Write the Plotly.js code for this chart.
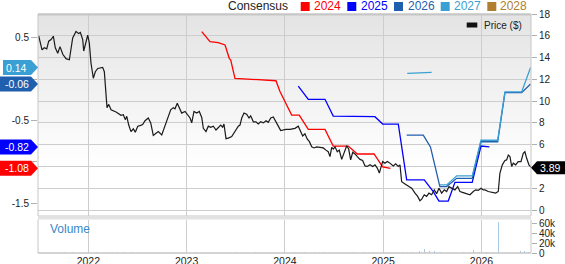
<!DOCTYPE html>
<html><head><meta charset="utf-8">
<script src="https://cdn.plot.ly/plotly-3.0.1.min.js"></script>
<style>html,body{margin:0;padding:0;background:#fff;}#chart{width:565px;height:264px;}</style>
</head><body><div id="chart"></div>
<script>
// ---------- DATA ----------
const yearTicks = [2022, 2023, 2024, 2025, 2026];
const yearLabels = ['2022', '2023', '2024', '2025', '2026'];

const priceX = [2021.495,2021.529,2021.552,2021.577,2021.597,2021.621,2021.644,2021.664,2021.689,2021.712,
2021.740,2021.773,2021.807,2021.824,2021.841,2021.875,2021.902,2021.919,2021.943,2021.953,
2021.977,2021.994,2022.010,2022.027,2022.051,2022.071,2022.096,2022.129,2022.146,2022.163,
2022.180,2022.190,2022.208,2022.231,2022.282,2022.333,2022.356,2022.376,2022.391,2022.411,
2022.434,2022.458,2022.478,2022.503,2022.526,2022.553,2022.577,2022.610,2022.635,2022.661,
2022.689,2022.712,2022.747,2022.780,2022.814,2022.838,2022.865,2022.882,2022.905,2022.926,
2022.950,2022.984,2023.007,2023.035,2023.052,2023.075,2023.103,2023.129,2023.154,2023.170,
2023.197,2023.221,2023.245,2023.272,2023.299,2023.322,2023.347,2023.367,2023.380,2023.401,
2023.424,2023.459,2023.492,2023.526,2023.543,2023.561,2023.584,2023.611,2023.635,2023.652,
2023.679,2023.706,2023.729,2023.754,2023.780,2023.808,2023.831,2023.856,2023.882,2023.909,
2023.933,2023.957,2023.984,2024.011,2024.052,2024.103,2024.136,2024.154,2024.181,2024.204,
2024.228,2024.248,2024.273,2024.296,2024.324,2024.357,2024.391,2024.418,2024.441,2024.459,
2024.476,2024.492,2024.510,2024.533,2024.553,2024.578,2024.601,2024.629,2024.649,2024.669,
2024.690,2024.713,2024.737,2024.764,2024.791,2024.815,2024.838,2024.866,2024.893,2024.917,
2024.940,2024.961,2024.975,2024.995,2025.018,2025.042,2025.062,2025.079,2025.103,2025.127,
2025.154,2025.171,2025.188,2025.222,2025.255,2025.290,2025.324,2025.351,2025.374,2025.392,
2025.418,2025.442,2025.466,2025.493,2025.520,2025.544,2025.568,2025.595,2025.622,2025.646,
2025.669,2025.697,2025.730,2025.758,2025.781,2025.815,2025.849,2025.883,2025.917,2025.941,
2025.967,2025.995,2026.018,2026.036,2026.069,2026.104,2026.144,2026.171,2026.188,2026.212,
2026.239,2026.256,2026.273,2026.290,2026.307,2026.324,2026.348,2026.374,2026.402,2026.425,
2026.442,2026.460,2026.483,2026.510];
const priceY = [16.0,14.7,14.9,14.8,15.5,15.65,15.96,14.9,14.4,15.0,
14.3,13.9,13.8,14.9,15.8,16.4,16.2,16.3,15.65,14.6,
15.5,16.05,15.35,13.5,12.1,12.7,13.0,13.05,13.1,12.7,
10.9,9.4,9.7,9.2,9.0,8.7,8.75,8.3,8.6,7.8,
7.2,7.45,7.15,7.7,7.75,7.85,8.2,8.45,8.0,6.85,
7.05,7.2,6.9,7.7,8.6,9.2,9.4,9.3,9.8,9.35,
8.9,9.05,8.8,8.45,8.0,9.05,8.9,9.05,8.5,7.5,
7.2,7.7,7.6,7.7,7.35,7.6,7.8,7.6,7.9,6.55,
6.6,6.75,7.2,7.7,7.8,8.45,8.9,8.8,8.45,8.65,
8.1,8.1,7.9,8.1,8.0,8.2,8.05,8.45,8.55,8.15,
7.7,7.3,7.35,7.4,7.4,7.5,7.7,7.35,6.8,7.0,
6.5,6.3,5.8,5.7,5.8,5.75,5.7,5.5,5.35,4.9,
5.75,5.6,5.8,5.35,5.5,4.65,5.2,5.9,5.6,4.6,
5.3,5.15,4.9,4.65,4.55,4.05,4.0,4.15,4.0,4.15,
3.85,3.4,3.85,4.45,4.3,4.45,4.35,4.25,4.05,4.25,
4.0,4.15,2.6,2.4,2.2,2.0,1.55,1.25,0.85,1.0,
1.4,1.25,1.55,1.4,1.85,1.5,2.0,1.55,1.85,1.7,
2.15,2.0,1.85,2.15,1.7,1.6,1.5,1.4,1.7,1.85,
1.8,2.0,1.85,1.85,1.7,1.6,1.55,1.7,3.4,4.15,
4.55,4.6,5.05,4.9,4.0,4.3,4.15,4.45,4.45,5.2,
5.35,4.75,4.15,3.89];

// Consensus EPS estimates (left axis)
const eps2024X = [2023.154,2023.238,2023.322,2023.391,2023.434,2023.449,2023.492,2023.909,2023.950,2024.069,2024.146,2024.238,2024.408,2024.492,2024.645,2024.737,2024.907,2024.995,2025.074];
const eps2024Y = [0.573,0.452,0.44,0.412,0.251,0.23,0.009,-0.02,-0.15,-0.435,-0.435,-0.608,-0.608,-0.81,-0.81,-0.906,-0.906,-1.063,-1.08];

const eps2025X = [2024.136,2024.238,2024.408,2024.492,2024.916,2024.995,2025.154,2025.239,2025.418,2025.510,2025.568,2025.662,2025.730,2025.906,2025.995,2026.081];
const eps2025Y = [-0.084,-0.245,-0.245,-0.447,-0.455,-0.544,-0.544,-1.22,-1.22,-1.362,-1.475,-1.475,-1.249,-1.249,-0.81,-0.82];

const eps2026X = [2025.239,2025.408,2025.481,2025.577,2025.646,2025.748,2025.906,2025.995,2026.165,2026.239,2026.409,2026.500];
const eps2026Y = [-0.677,-0.677,-0.82,-1.30,-1.30,-1.20,-1.20,-0.758,-0.758,-0.165,-0.165,-0.06];

const eps2027X = [2025.245,2025.493,null,2025.577,2025.646,2025.748,2025.906,2025.995,2026.165,2026.239,2026.409,2026.500];
const eps2027Y = [0.07,0.08,null,-1.28,-1.28,-1.17,-1.17,-0.74,-0.74,-0.155,-0.155,0.14];

const volX = [2021.52,2021.60,2021.68,2021.76,2021.84,2021.92,2022.00,2022.08,2022.14,2022.19,
2022.24,2022.30,2022.36,2022.44,2022.52,2022.60,2022.70,2022.80,2022.90,2023.00,
2023.10,2023.20,2023.30,2023.40,2023.50,2023.60,2023.70,2023.80,2023.90,2024.00,
2024.10,2024.20,2024.30,2024.40,2024.50,2024.60,2024.70,2024.80,2024.90,2025.00,
2025.10,2025.20,2025.30,2025.37,2025.42,2025.47,2025.52,2025.58,2025.64,2025.70,
2025.76,2025.82,2025.88,2025.92,2025.98,2026.05,2026.12,2026.175,2026.19,2026.22,
2026.26,2026.30,2026.35,2026.40,2026.44,2026.48];
const volY = [1200,900,1500,1100,1300,1000,1600,1200,2500,4000,
2200,1800,1400,1200,1000,900,1100,1300,1000,900,
1200,1000,900,1100,1300,1000,1100,900,1200,1000,
1300,1100,1500,1200,1400,1100,1600,1300,1500,1800,
2000,2200,2500,3400,8800,4000,3800,2500,3000,2800,
2000,1800,2200,5400,2000,1800,1500,63000,6500,5500,
4000,3000,2500,3500,4600,2000];

// Tick labels (values hidden behind the value flags are left blank)
const epsTickVals = [0.5, 0, -0.5, -1, -1.5];
const epsTickText = ['0.5', '', '-0.5', '', '-1.5'];
const priceTickVals = [0, 2, 4, 6, 8, 10, 12, 14, 16, 18];
const priceTickText = ['0', '2', '', '6', '8', '10', '12', '14', '16', '18'];
const volTickVals = [0, 20000, 40000, 60000];
const volTickText = ['0', '20k', '40k', '60k'];

const legendYears = ['2024', '2025', '2026', '2027', '2028'];
const legendColors = ['#ff0000', '#0000ff', '#1f5fae', '#3a9fd2', '#b07e2e'];
const lastEps = [0.14, -0.06, -0.82, -1.08];
const lastEpsColors = ['#3a9fd2', '#1f5fae', '#0000ff', '#ff0000'];
const lastPrice = 3.89;

// ---------- LAYOUT HELPERS ----------
const W = 565, H = 264, L = 38, R = 34, T = 14, B = 11;
const pw = W - L - R, ph = H - T - B;
const px = x => (x - L) / pw;
const py = y => (H - B - y) / ph;
const FONT = 'Liberation Sans, Arial, sans-serif';

const traces = [
  {x: volX, y: volY, type: 'bar', yaxis: 'y3', width: 0.007,
   marker: {color: '#a9c9e7', line: {width: 0}}, hoverinfo: 'skip'},
  {x: eps2024X, y: eps2024Y, mode: 'lines', yaxis: 'y', line: {color: legendColors[0], width: 1.3}},
  {x: eps2025X, y: eps2025Y, mode: 'lines', yaxis: 'y', line: {color: legendColors[1], width: 1.3}},
  {x: eps2026X, y: eps2026Y, mode: 'lines', yaxis: 'y', line: {color: legendColors[2], width: 1.3}},
  {x: eps2027X, y: eps2027Y, mode: 'lines', yaxis: 'y', connectgaps: false, line: {color: legendColors[3], width: 1.3}},
  {x: priceX, y: priceY, mode: 'lines', yaxis: 'y2', line: {color: '#1a1a1a', width: 1.2}}
];

const shapes = [];
// background gradient of price panel
const gN = 26, gTop = 14, gBot = 170;
for (let i = 0; i < gN; i++) {
  const y0 = gTop + i * (gBot - gTop) / gN, y1 = gTop + (i + 1) * (gBot - gTop) / gN;
  const v = Math.round(228 + (255 - 228) * (i / (gN - 1)));
  shapes.push({type: 'rect', xref: 'paper', yref: 'paper', x0: 0, x1: 1, y0: py(y1), y1: py(y0),
    fillcolor: `rgb(${v},${v},${v})`, line: {width: 0}, layer: 'below'});
}
// panel borders
shapes.push({type: 'rect', xref: 'paper', yref: 'paper', x0: 0, x1: 1, y0: py(216), y1: 1,
  line: {color: '#c6c6c6', width: 1}, layer: 'above'});
shapes.push({type: 'line', xref: 'paper', yref: 'paper', x0: 0, x1: 1, y0: py(14.5), y1: py(14.5),
  line: {color: '#c6c6c6', width: 2}, layer: 'above'});
shapes.push({type: 'rect', xref: 'paper', yref: 'paper', x0: 0, x1: 1, y0: py(219.5), y1: py(216),
  fillcolor: '#e2e2e2', line: {width: 0}, layer: 'above'});
shapes.push({type: 'line', xref: 'paper', yref: 'paper', x0: 0, x1: 0, y0: 0, y1: py(219.5), line: {color: '#c6c6c6', width: 1}});
shapes.push({type: 'line', xref: 'paper', yref: 'paper', x0: 1, x1: 1, y0: 0, y1: py(219.5), line: {color: '#c6c6c6', width: 1}});
shapes.push({type: 'line', xref: 'paper', yref: 'paper', x0: 0, x1: 1, y0: 0, y1: 0, line: {color: '#c6c6c6', width: 1.5}});

const annotations = [];
// top legend
annotations.push({xref: 'paper', yref: 'paper', x: px(226.7), y: py(6.5), xanchor: 'left', yanchor: 'middle',
  text: 'Consensus', showarrow: false, borderpad: 0, font: {family: FONT, size: 12, color: '#222'}});
const legSq = [300.7, 347.3, 394, 440.7, 487.3];
const legTx = [312.7, 360, 406.7, 453.3, 499.3];
legendYears.forEach((yr, i) => {
  shapes.push({type: 'rect', xref: 'paper', yref: 'paper', x0: px(legSq[i]), x1: px(legSq[i] + 9),
    y0: py(11), y1: py(2), fillcolor: legendColors[i], line: {width: 0}});
  annotations.push({xref: 'paper', yref: 'paper', x: px(legTx[i]), y: py(6.5), xanchor: 'left', yanchor: 'middle',
    text: yr, showarrow: false, borderpad: 0, font: {family: FONT, size: 12, color: legendColors[i]}});
});
// price legend
shapes.push({type: 'rect', xref: 'paper', yref: 'paper', x0: px(466.7), x1: px(477.3), y0: py(27.5), y1: py(22.5),
  fillcolor: '#111', line: {width: 0}});
annotations.push({xref: 'paper', yref: 'paper', x: px(482.5), y: py(25.5), xanchor: 'left', yanchor: 'middle',
  text: 'Price ($)', showarrow: false, borderpad: 0, font: {family: FONT, size: 10, color: '#222'}});
// volume label
annotations.push({xref: 'paper', yref: 'paper', x: px(48.5), y: py(228.5), xanchor: 'left', yanchor: 'middle',
  text: 'Volume', showarrow: false, borderpad: 0, font: {family: FONT, size: 12, color: '#3b88c9'}});
// latest EPS labels on left
lastEps.forEach((v, i) => {
  const left = i === 0 ? -35 : -38;
  shapes.push({type: 'path', xref: 'paper', xsizemode: 'pixel', xanchor: 0, yref: 'y', ysizemode: 'pixel', yanchor: v,
    path: `M ${left} -7.5 L -7 -7.5 L 0 0 L -7 7.5 L ${left} 7.5 Z`, fillcolor: lastEpsColors[i], line: {width: 0}, layer: 'above'});
  annotations.push({xref: 'paper', yref: 'y', x: 0, y: v, xshift: -21.5, xanchor: 'center', yanchor: 'middle',
    text: v.toFixed(2), showarrow: false, borderpad: 0, font: {family: FONT, size: 10.5, color: '#fff'}});
});
// latest price label on right
shapes.push({type: 'path', xref: 'paper', xsizemode: 'pixel', xanchor: 1, yref: 'y2', ysizemode: 'pixel', yanchor: lastPrice,
  path: 'M 0 0 L 6 -6.5 L 34 -6.5 L 34 6.5 L 6 6.5 Z', fillcolor: '#000', line: {width: 0}, layer: 'above'});
annotations.push({xref: 'paper', yref: 'y2', x: 1, y: lastPrice, xshift: 19.5, xanchor: 'center', yanchor: 'middle',
  text: lastPrice.toFixed(2), showarrow: false, borderpad: 0, font: {family: FONT, size: 10.5, color: '#fff'}});

const layout = {
  width: W, height: H,
  margin: {l: L, r: R, t: T, b: B, pad: 0},
  paper_bgcolor: '#fff', plot_bgcolor: '#fff',
  showlegend: false,
  font: {family: FONT, size: 10, color: '#222'},
  xaxis: {domain: [0, 1], range: [2021.488, 2026.504], anchor: 'y3',
    tickvals: yearTicks, ticktext: yearLabels, showgrid: true, gridcolor: '#cdcdcd', gridwidth: 1,
    zeroline: false, showline: false, ticks: '', tickfont: {size: 10.5, color: '#222'}},
  yaxis: {domain: [py(216), 1], range: [-1.656, 0.787], side: 'left', anchor: 'x',
    tickvals: epsTickVals, ticktext: epsTickText,
    showgrid: false, zeroline: false, showline: false, ticks: 'outside', ticklen: 6, tickcolor: '#b0b0b0',
    tickfont: {size: 10, color: '#222'}},
  yaxis2: {overlaying: 'y', side: 'right', anchor: 'x', range: [-0.55, 18],
    tickvals: priceTickVals, ticktext: priceTickText,
    showgrid: true, gridcolor: '#cdcdcd', gridwidth: 1, zeroline: false, showline: false,
    ticks: 'outside', ticklen: 5, tickcolor: '#b0b0b0', tickfont: {size: 10, color: '#222'}},
  yaxis3: {domain: [0, py(219.5)], side: 'right', anchor: 'x', range: [0, 67000],
    tickvals: volTickVals, ticktext: volTickText,
    showgrid: false, zeroline: false, showline: false, ticks: 'outside', ticklen: 5, tickcolor: '#b0b0b0',
    tickfont: {size: 10, color: '#222'}},
  bargap: 0,
  shapes: shapes,
  annotations: annotations
};

Plotly.newPlot('chart', traces, layout, {staticPlot: true, displayModeBar: false});
</script>
</body></html>
